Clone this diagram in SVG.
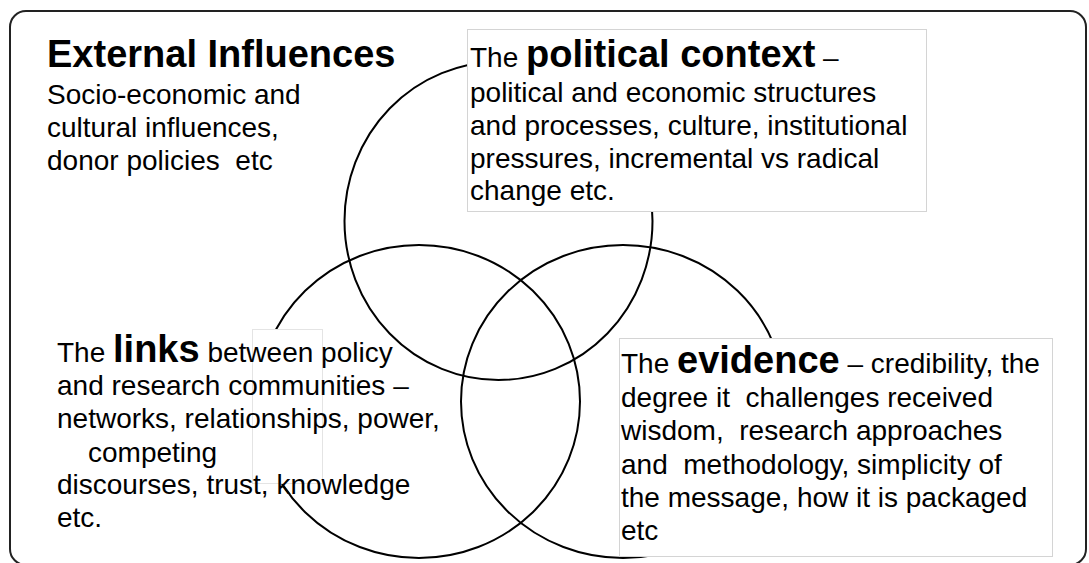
<svg xmlns="http://www.w3.org/2000/svg" width="1089" height="563" viewBox="0 0 1089 563">
<style>
  text { font-family: "Liberation Sans", Arial, sans-serif; font-size: 28px; fill: #000; white-space: pre; }
  .b { font-weight: bold; font-size: 38px; }
  .venn { fill: none; stroke: #000; stroke-width: 2; }
  .box { fill: #fff; stroke: #d4d4d4; stroke-width: 1; }
  .faint { fill: #fff; stroke: #e4e4e4; stroke-width: 1; }
  .frame { fill: #fff; stroke: #222; stroke-width: 2; }
</style>
<rect width="1089" height="563" fill="#fff"/>
<g id="external">
  <rect class="frame" x="10" y="11" width="1076" height="554" rx="16" ry="16"/>
  <text x="47" y="67" class="b">External Influences</text>
  <text x="47" y="104">Socio-economic and</text>
  <text x="47" y="137">cultural influences,</text>
  <text x="47" y="170">donor policies  etc</text>
</g>
<g id="political">
  <ellipse class="venn" cx="498.5" cy="221" rx="154" ry="159"/>
  <rect class="box" x="467.5" y="29.5" width="459" height="182"/>
  <text x="470" y="67">The <tspan class="b">political context</tspan> –</text>
  <text x="470" y="102">political and economic structures</text>
  <text x="470" y="135">and processes, culture, institutional</text>
  <text x="470" y="168">pressures, incremental vs radical</text>
  <text x="470" y="200">change etc.</text>
</g>
<g id="links">
  <ellipse class="venn" cx="419" cy="401.5" rx="161" ry="156.5"/>
  <rect class="faint" x="252.5" y="329.5" width="70" height="154"/>
  <text x="57" y="362">The <tspan class="b">links</tspan> between policy</text>
  <text x="57" y="395">and research communities –</text>
  <text x="57" y="428">networks, relationships, power,</text>
  <text x="88" y="462">competing</text>
  <text x="57" y="494">discourses, trust, knowledge</text>
  <text x="57" y="527">etc.</text>
</g>
<g id="evidence">
  <ellipse class="venn" cx="623" cy="401.5" rx="162" ry="156.5"/>
  <rect class="box" x="619.5" y="338.5" width="433" height="218"/>
  <text x="621" y="373">The <tspan class="b">evidence</tspan> – credibility, the</text>
  <text x="621" y="407">degree it  challenges received</text>
  <text x="621" y="440">wisdom,  research approaches</text>
  <text x="621" y="474">and  methodology, simplicity of</text>
  <text x="621" y="507">the message, how it is packaged</text>
  <text x="621" y="540">etc</text>
</g>
<g id="connectors"/>
</svg>
